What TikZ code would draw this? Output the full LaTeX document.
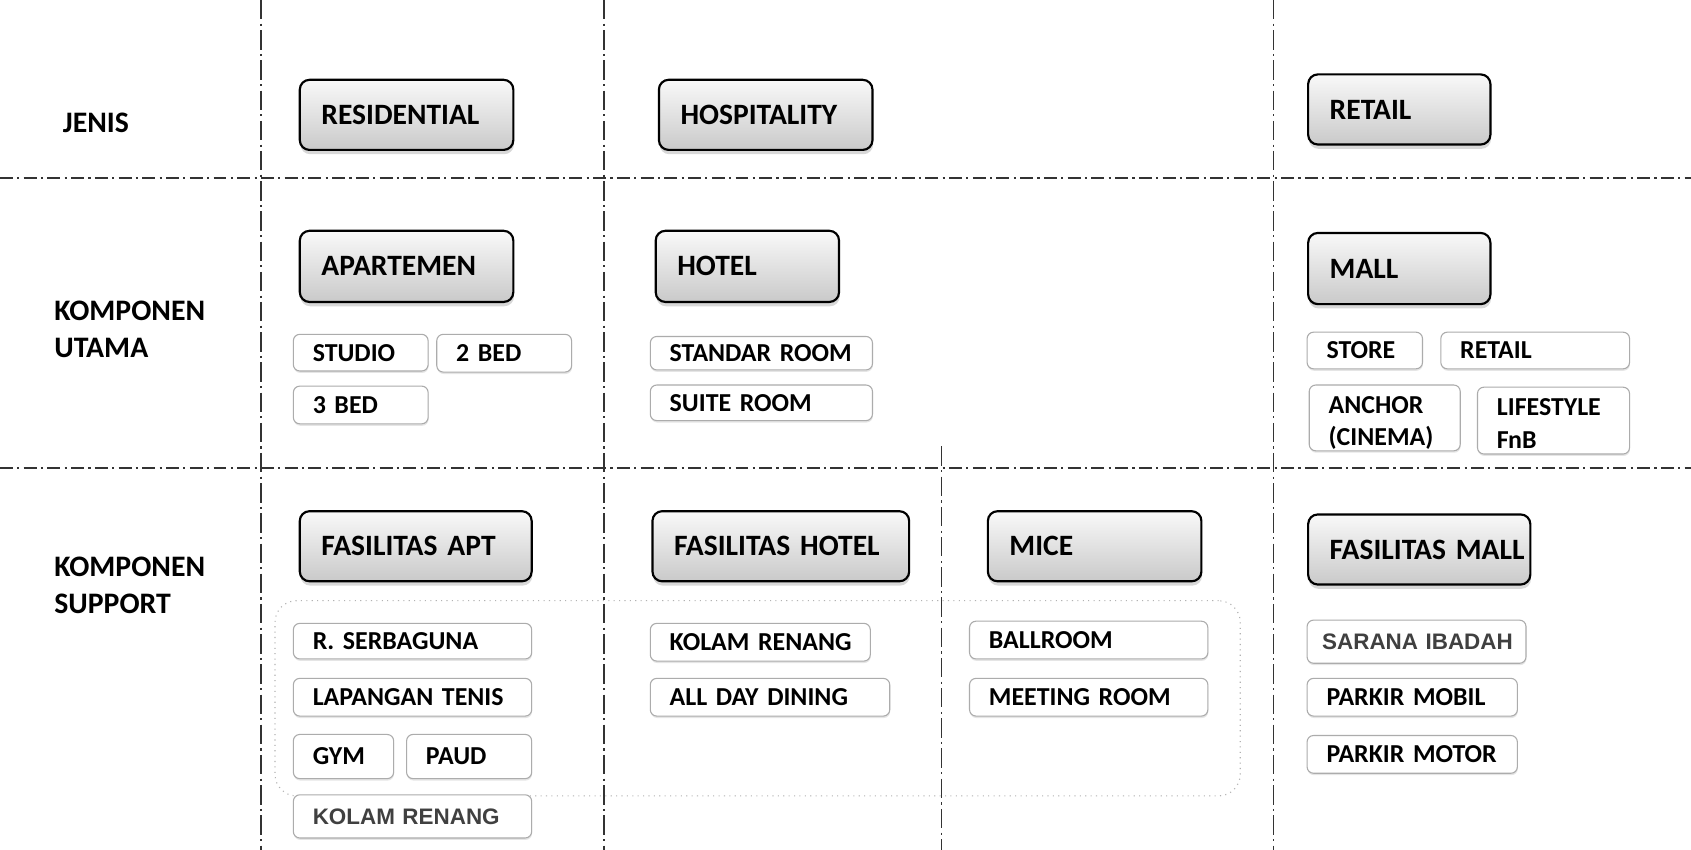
\documentclass[tikz,border=0pt]{standalone}
\usepackage{fontspec}
\setmainfont{Carlito}
\newfontfamily\arialf{Liberation Sans}
\usetikzlibrary{shadows}

\newcommand\bx[8]{% #1 style, #2 pad (pt), #3 name, #4 x1, #5 y1, #6 x2, #7 y2, #8 text
  \pgfmathsetmacro\bxw{(#6-#4)*0.5}%
  \pgfmathsetmacro\bxh{(#7-#5)*0.5}%
  \pgfmathsetmacro\bxt{\bxw-2*#2}%
  \node[#1, inner xsep=#2pt, text width=\bxt pt, minimum width=\bxw pt,
        minimum height=\bxh pt, anchor=north west] (#3) at (#4,#5) {#8};}

\tikzset{
  nobreak/.style={execute at begin node={\hyphenpenalty=10000\exhyphenpenalty=10000\hbadness=10000\hfuzz=40pt}},
  bigbox/.style={nobreak, draw=black, line width=1pt, rounded corners=4.5pt,
    top color=gray!5, bottom color=gray!42, outer sep=0pt,
    drop shadow={shadow xshift=0.3pt, shadow yshift=-2pt, opacity=0.3},
    inner ysep=1pt, align=left, font=\fontsize{13.7}{16}\selectfont\bfseries},
  smallbox/.style={nobreak, draw=gray!65, line width=0.5pt, rounded corners=3pt,
    fill=white, outer sep=0pt,
    drop shadow={shadow xshift=0.2pt, shadow yshift=-0.9pt, opacity=0.2},
    inner ysep=1pt, align=left, font=\fontsize{12}{15}\selectfont\bfseries},
  twoline/.style={smallbox, inner ysep=0pt, text height=13pt, text depth=17.5pt},
  altbox/.style={smallbox, text=black!75,
    font=\arialf\fontsize{10.4}{12}\selectfont\bfseries},
  rowlabel/.style={anchor=north west, align=left, inner sep=0pt,
    font=\fontsize{13.8}{17}\selectfont\bfseries},
  hdiv/.style={line width=0.6pt, black!80, dash pattern=on 6pt off 2pt on 1pt off 2pt},
  vdiv/.style={line width=0.6pt, black!80, dash pattern=on 9pt off 2pt on 1pt off 2pt},
  groupbox/.style={draw=gray!60, dotted, line width=0.5pt, rounded corners=10pt,
    inner sep=0pt, outer sep=0pt, anchor=north west},
}

\begin{document}
\begin{tikzpicture}[x=0.5pt, y=-0.5pt]
\useasboundingbox (0,0) rectangle (1568,788);
\fill[white] (0,0) rectangle (1568,788);

% divider coordinates
\coordinate (v1t) at (242,0);   \coordinate (v1b) at (242,788);
\coordinate (v2t) at (560,0);   \coordinate (v2b) at (560,788);
\coordinate (v3t) at (873,414); \coordinate (v3b) at (873,788);
\coordinate (v4t) at (1181,0);  \coordinate (v4b) at (1181,788);
\coordinate (h1l) at (0,165);   \coordinate (h1r) at (1568,165);
\coordinate (h2l) at (0,434);   \coordinate (h2r) at (1568,434);

% group frame
\node[groupbox, minimum width=447.5pt, minimum height=90.5pt] (grp) at (255,557) {};

\draw[vdiv] (v1t) -- (v1b);
\draw[vdiv] (v2t) -- (v2b);
\draw[vdiv] (v3t) -- (v3b);
\draw[vdiv] (v4t) -- (v4b);
\draw[hdiv] (h1l) -- (h1r);
\draw[hdiv] (h2l) -- (h2r);

% row labels
\node[rowlabel] (lbl1) at (58,104) {JENIS};
\node[rowlabel] (lbl2) at (50,279) {KOMPONEN\\UTAMA};
\node[rowlabel] (lbl3) at (50,516) {KOMPONEN\\SUPPORT};

% big boxes
\bx{bigbox}{10}{res}{278}{74}{476}{139}{RESIDENTIAL}
\bx{bigbox}{10}{hosp}{611}{74}{809}{139}{HOSPITALITY}
\bx{bigbox}{10}{ret}{1213}{69}{1382}{134}{RETAIL}
\bx{bigbox}{10}{apt}{278}{214}{476}{280}{APARTEMEN}
\bx{bigbox}{10}{hotel}{608}{214}{778}{280}{HOTEL}
\bx{bigbox}{10}{mall}{1213}{216}{1382}{282}{MALL}
\bx{bigbox}{10}{fapt}{278}{474}{493}{539}{FASILITAS~APT}
\bx{bigbox}{10}{fhotel}{605}{474}{843}{539}{FASILITAS~HOTEL}
\bx{bigbox}{10}{mice}{916}{474}{1114}{539}{MICE}
\bx{bigbox}{10}{fmall}{1213}{477}{1419}{542}{FASILITAS~MALL}

% komponen utama items
\bx{smallbox}{9}{studio}{272}{310}{397}{344}{STUDIO}
\bx{smallbox}{9}{bed2}{405}{310}{530}{345}{2~BED}
\bx{smallbox}{9}{bed3}{272}{358}{397}{393}{3~BED}
\bx{smallbox}{9}{std}{603}{312}{809}{343}{STANDAR~ROOM}
\bx{smallbox}{9}{suite}{603}{357}{809}{390}{SUITE~ROOM}
\bx{smallbox}{9}{store}{1212}{308}{1319}{342}{STORE}
\bx{smallbox}{9}{retail2}{1336}{308}{1511}{342}{RETAIL}
\bx{twoline}{9}{anchor}{1214}{357}{1354}{418}{ANCHOR\\(CINEMA)}
\bx{twoline}{9}{lifestyle}{1370}{359}{1511}{421}{LIFESTYLE\\FnB}

% komponen support items
\bx{smallbox}{9}{serba}{272}{578}{493}{611}{R.~SERBAGUNA}
\bx{smallbox}{9}{tenis}{272}{629}{493}{664}{LAPANGAN~TENIS}
\bx{smallbox}{9}{gym}{272}{681}{365}{722}{GYM}
\bx{smallbox}{9}{paud}{377}{681}{493}{722}{PAUD}
\bx{altbox}{9}{kolapt}{272}{737}{493}{777}{KOLAM~RENANG}
\bx{smallbox}{9}{kolhot}{603}{578}{807}{613}{KOLAM~RENANG}
\bx{smallbox}{9}{dining}{603}{629}{825}{664}{ALL~DAY~DINING}
\bx{smallbox}{9}{ball}{899}{576}{1120}{611}{BALLROOM}
\bx{smallbox}{9}{meet}{899}{629}{1120}{664}{MEETING~ROOM}
\bx{altbox}{7}{ibadah}{1212}{575}{1415}{615}{SARANA~IBADAH}
\bx{smallbox}{9}{mobil}{1212}{629}{1407}{664}{PARKIR~MOBIL}
\bx{smallbox}{9}{motor}{1212}{682}{1407}{717}{PARKIR~MOTOR}
\end{tikzpicture}
\end{document}
